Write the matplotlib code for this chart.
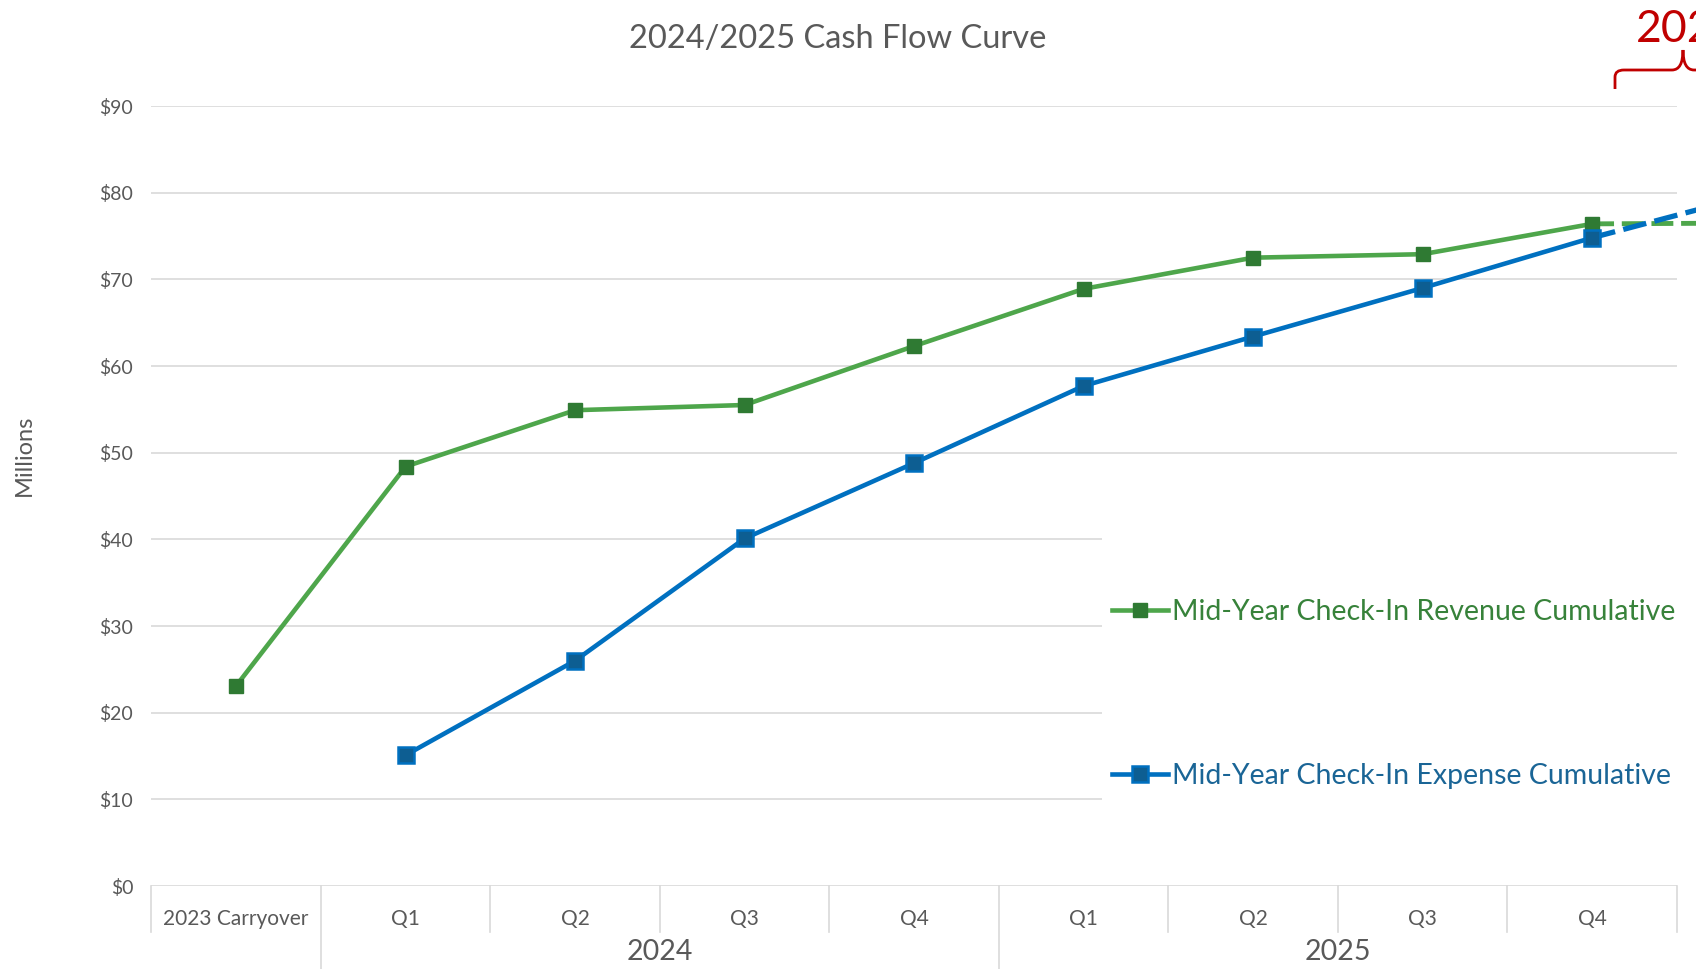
# Cash flow curve: cumulative revenue vs expense by quarter
import numpy as np
import matplotlib.pyplot as plt
from matplotlib.path import Path
from matplotlib.patches import PathPatch
from matplotlib.lines import Line2D

plt.rcParams['font.family'] = ['Lato', 'DejaVu Sans']

# Data (millions of dollars)
categories = ['2023 Carryover', 'Q1', 'Q2', 'Q3', 'Q4', 'Q1', 'Q2', 'Q3', 'Q4']
year_labels = ['2024', '2025']
year_spans = [(1, 4), (5, 8)]
revenue = [23.1, 48.4, 54.9, 55.5, 62.3, 68.9, 72.5, 72.9, 76.4]
expense = [np.nan, 15.1, 26.0, 40.1, 48.8, 57.7, 63.4, 69.0, 74.8]
# projected continuation into the next period (dashed)
revenue_proj = [76.4, 76.5]
expense_proj = [74.8, 80.0]
yticks = np.arange(0, 100, 10)

GREEN = '#4EA64B'
GREEN_DARK = '#2F7A33'
BLUE = '#0070C0'
BLUE_DARK = '#0D5E92'
GRID = '#D9D9D9'
GRAY = '#595959'

W, H = 1696, 969
fig = plt.figure(figsize=(W / 100, H / 100), dpi=100)

# plot area: the chart is cropped on the right, so the axes run past the figure
x0, y_zero, y_top, cat_w = 151.4, 886, 106, 169.5
ax = fig.add_axes([x0 / W, (H - y_zero) / H, 10 * cat_w / W, (y_zero - y_top) / H])
ax.set_xlim(-0.5, 9.5)
ax.set_ylim(0, 90)
for s in ax.spines.values():
    s.set_visible(False)

x = np.arange(len(categories))

# gridlines (the legend box hides the right part of the lower ones)
for yv in yticks:
    right = 5.11 if 10 <= yv <= 40 else 8.5
    ax.hlines(yv, -0.5, right, color=GRID, lw=1.2, zorder=0)

ax.set_yticks(yticks)
ax.set_yticklabels(['$%d' % v for v in yticks])
ax.tick_params(axis='y', length=0, pad=13, labelsize=14, labelcolor=GRAY)
ax.set_xticks([])

# category axis separators and labels
bounds = np.arange(-0.5, len(categories), 1.0)
for b in bounds:
    long = b in (0.5, 4.5)
    ax.plot([b, b], [0, -10 if long else -5.3], color=GRID, lw=1.2, clip_on=False)
for xi, lab in zip(x, categories):
    ax.text(xi, -3.85, lab, ha='center', va='center', fontsize=15, color=GRAY, clip_on=False)
for lab, (a, b) in zip(year_labels, year_spans):
    ax.text((a + b) / 2, -7.65, lab, ha='center', va='center', fontsize=20.5, color=GRAY, clip_on=False)

# projections (dashed)
nx = [x[-1], x[-1] + 1]
ax.plot(nx, revenue_proj, color=GREEN, lw=3.5, ls=(0, (4.5, 1.6)), zorder=2)
ax.plot(nx, expense_proj, color=BLUE, lw=3.8, ls=(0, (4.5, 1.6)), zorder=3)

# actual series
ax.plot(x, revenue, color=GREEN, lw=3.3, marker='s', ms=10.5,
        mfc=GREEN_DARK, mec=GREEN_DARK, mew=1, zorder=4)
ax.plot(x, expense, color=BLUE, lw=3.3, marker='s', ms=11.5,
        mfc=BLUE_DARK, mec=BLUE, mew=1.8, zorder=5)

# legend
h_rev = Line2D([], [], color=GREEN, lw=3.3, marker='s', ms=10.5, mfc=GREEN_DARK, mec=GREEN_DARK)
h_exp = Line2D([], [], color=BLUE, lw=3.3, marker='s', ms=11.5, mfc=BLUE_DARK, mec=BLUE, mew=1.8)
leg = ax.legend([h_rev, h_exp],
                ['Mid-Year Check-In Revenue Cumulative', 'Mid-Year Check-In Expense Cumulative'],
                loc='upper left', bbox_to_anchor=(1112 / W, 1 - 599 / H),
                bbox_transform=fig.transFigure, frameon=False, fontsize=20.5,
                handlelength=1.95, handletextpad=0.15, labelspacing=4.86,
                borderpad=0, borderaxespad=0)
leg.get_texts()[0].set_color('#37823A')
leg.get_texts()[1].set_color('#1A6596')

# titles
fig.text(838 / W, 1 - 39 / H, '2024/2025 Cash Flow Curve', ha='center', va='center',
         fontsize=23.5, color=GRAY)
fig.text(24 / W, 1 - 455 / H, 'Millions', rotation=90, ha='center', va='center',
         fontsize=17, color=GRAY)

# red brace and year label at the top right (cropped in the original)
RED = '#C00000'
pts = [(1615, 89), (1615, 77), (1615, 70), (1624, 70), (1672, 70), (1683, 70), (1683, 50),
       (1683, 70), (1694, 70), (1742, 70), (1751, 70), (1751, 77)]
codes = [Path.MOVETO, Path.LINETO, Path.CURVE3, Path.CURVE3, Path.LINETO, Path.CURVE3, Path.CURVE3,
         Path.CURVE3, Path.CURVE3, Path.LINETO, Path.CURVE3, Path.CURVE3]
verts = [(px / W, 1 - py / H) for px, py in pts]
fig.patches.append(PathPatch(Path(verts, codes), transform=fig.transFigure,
                             fill=False, edgecolor=RED, lw=2.0))
fig.text(1688 / W, 1 - 29 / H, '2026', ha='center', va='center', fontsize=32, color=RED)

fig.savefig('out.png', dpi=100)
